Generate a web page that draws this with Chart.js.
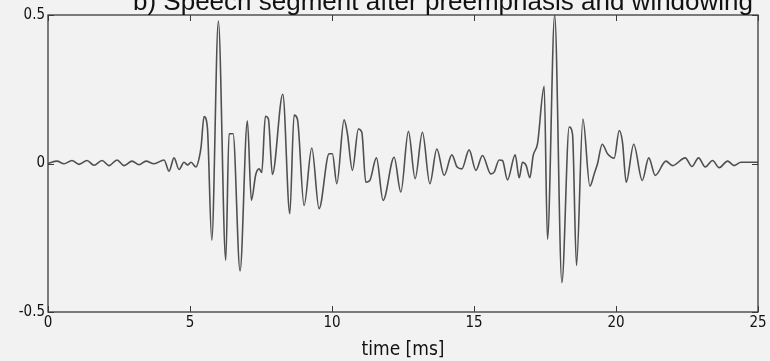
<!DOCTYPE html>
<html>
<head>
<meta charset="utf-8">
<title>Speech segment after preemphasis and windowing</title>
<script src="https://cdn.jsdelivr.net/npm/chart.js@4.4.1/dist/chart.umd.min.js"></script>
<style>
  html, body { margin: 0; padding: 0; background: #f2f2f2; }
  #wrap { position: relative; width: 770px; height: 361px; overflow: hidden; }
</style>
</head>
<body>
<div id="wrap"><canvas id="speechChart" width="770" height="361"></canvas></div>
<script>
// waveform (turning points + a few shoulders)
const timeMs = [
  0, 0.317, 0.564, 0.845, 1.092, 1.374, 1.620, 1.902, 2.149, 2.431,
  2.677, 2.959, 3.205, 3.452, 3.734, 4.086, 4.262, 4.438, 4.614, 4.791,
  4.914, 5.037, 5.213, 5.319, 5.389, 5.495, 5.611, 5.766, 5.999, 6.259,
  6.375, 6.516, 6.763, 7.020, 7.161, 7.316, 7.432, 7.527, 7.654, 7.760,
  7.901, 8.268, 8.514, 8.665, 8.781, 9.017, 9.288, 9.545, 9.898, 10.014,
  10.169, 10.426, 10.542, 10.718, 10.930, 11.049, 11.190, 11.331, 11.564, 11.800,
  12.188, 12.423, 12.691, 12.927, 13.184, 13.445, 13.691, 13.949, 14.220, 14.407,
  14.572, 14.829, 15.065, 15.298, 15.593, 15.710, 15.886, 16.003, 16.179, 16.450,
  16.591, 16.707, 16.837, 16.967, 17.084, 17.235, 17.471, 17.587, 17.841, 18.094,
  18.352, 18.468, 18.609, 18.834, 19.081, 19.233, 19.349, 19.514, 19.701, 19.937,
  20.113, 20.229, 20.360, 20.624, 20.924, 21.153, 21.382, 21.758, 21.991, 22.438,
  22.674, 22.906, 23.142, 23.399, 23.635, 23.927, 24.163, 24.399, 25.0
];
const amplitude = [
  0, 0.008, -0.001, 0.010, -0.003, 0.010, -0.006, 0.010, -0.007, 0.012,
  -0.007, 0.008, -0.004, 0.008, -0.001, 0.012, -0.026, 0.019, -0.020, 0.004,
  -0.005, 0.004, -0.012, 0.017, 0.055, 0.158, 0.122, -0.258, 0.480, -0.326,
  0.100, 0.100, -0.362, 0.144, -0.124, -0.037, -0.018, -0.030, 0.159, 0.150,
  -0.037, 0.233, -0.169, 0.163, 0.150, -0.141, 0.052, -0.152, 0.033, 0.033,
  -0.068, 0.147, 0.101, -0.023, 0.116, 0.105, -0.063, -0.057, 0.019, -0.124,
  0.021, -0.096, 0.108, -0.051, 0.105, -0.068, 0.049, -0.040, 0.029, -0.012,
  -0.018, 0.046, -0.023, 0.027, -0.035, -0.029, 0.012, 0.010, -0.055, 0.029,
  -0.048, 0.004, -0.007, -0.048, 0.027, 0.066, 0.260, -0.255, 0.500, -0.401,
  0.123, 0.100, -0.343, 0.150, -0.076, -0.035, -0.001, 0.065, 0.033, 0.018,
  0.111, 0.071, -0.063, 0.065, -0.057, 0.019, -0.040, 0.008, -0.007, 0.019,
  -0.010, 0.019, -0.012, 0.010, -0.014, 0.008, -0.007, 0.004, 0.004
];
const xTicks = [0, 5, 10, 15, 20, 25];
const yTicks = [-0.5, 0, 0.5];

const points = timeMs.map((t, i) => ({ x: t, y: amplitude[i] }));

const labelFont = "'Liberation Sans Narrow', 'DejaVu Sans Condensed', 'Liberation Sans', Arial, sans-serif";

// matlab style box with inward ticks
const frameBox = {
  id: 'frameBox',
  afterDraw(chart) {
    const { ctx, chartArea: a, scales } = chart;
    ctx.save();
    ctx.strokeStyle = '#3a3a3a';
    ctx.lineWidth = 1.3;
    ctx.strokeRect(a.left, a.top, a.right - a.left, a.bottom - a.top);
    ctx.lineWidth = 1;
    ctx.beginPath();
    xTicks.forEach(v => {
      const px = Math.round(scales.x.getPixelForValue(v)) + 0.5;
      ctx.moveTo(px, a.bottom); ctx.lineTo(px, a.bottom - 6);
      ctx.moveTo(px, a.top); ctx.lineTo(px, a.top + 6);
    });
    yTicks.forEach(v => {
      const py = Math.round(scales.y.getPixelForValue(v)) + 0.5;
      ctx.moveTo(a.left, py); ctx.lineTo(a.left + 6, py);
      ctx.moveTo(a.right, py); ctx.lineTo(a.right - 6, py);
    });
    ctx.stroke();
    ctx.restore();
  }
};

// title sits half outside the picture in the original
const cutTitle = {
  id: 'cutTitle',
  afterDraw(chart) {
    const { ctx } = chart;
    ctx.save();
    ctx.fillStyle = '#111';
    ctx.font = "26px 'Liberation Sans', Arial, sans-serif";
    ctx.textAlign = 'center';
    ctx.textBaseline = 'alphabetic';
    ctx.fillText('b) Speech segment after preemphasis and windowing', 443, 10);
    ctx.restore();
  }
};

new Chart(document.getElementById('speechChart'), {
  type: 'line',
  data: {
    datasets: [{
      data: points,
      borderColor: '#505050',
      borderWidth: 1.6,
      pointRadius: 0,
      cubicInterpolationMode: 'monotone',
      fill: false
    }]
  },
  options: {
    responsive: false,
    animation: false,
    events: [],
    layout: { padding: { top: 15, right: 12, left: 0, bottom: 0 } },
    plugins: { legend: { display: false }, tooltip: { enabled: false } },
    scales: {
      x: {
        type: 'linear',
        min: 0, max: 25,
        afterBuildTicks: s => { s.ticks = xTicks.map(v => ({ value: v })); },
        afterFit: s => { s.height = 49; },
        grid: { display: false, drawTicks: false },
        border: { display: false },
        ticks: { color: '#111', padding: 2, maxRotation: 0, font: { family: labelFont, size: 15 } },
        title: { display: true, text: 'time [ms]', color: '#111', padding: 0, font: { family: labelFont, size: 19 } }
      },
      y: {
        min: -0.5, max: 0.5,
        afterBuildTicks: s => { s.ticks = yTicks.map(v => ({ value: v })); },
        afterFit: s => { s.width = 48; },
        grid: { display: false, drawTicks: false },
        border: { display: false },
        ticks: { color: '#111', padding: 3, font: { family: labelFont, size: 15 }, callback: v => String(v) }
      }
    }
  },
  plugins: [frameBox, cutTitle]
});
</script>
</body>
</html>
